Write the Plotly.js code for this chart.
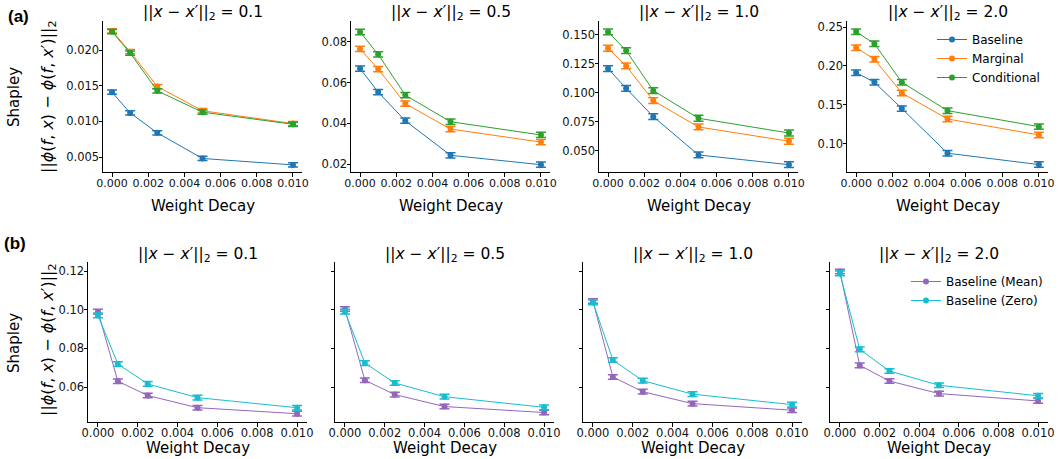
<!DOCTYPE html>
<html><head><meta charset="utf-8">
<script src="https://cdn.plot.ly/plotly-3.0.1.min.js"></script>
<style>body{margin:0;padding:0;background:#fff}#plot{width:1058px;height:459px}</style>
</head><body><div id="plot"></div>
<script>
// ---------- DATA ----------
const weightDecay = [0, 0.001, 0.0025, 0.005, 0.01];
const normLabels = ['0.1', '0.5', '1.0', '2.0'];

// Row (a): one array per panel (||x-x'|| = 0.1, 0.5, 1.0, 2.0)
const baselineA = [
  [0.0141, 0.0112, 0.0084, 0.0048, 0.0039],
  [0.0669, 0.0554, 0.0413, 0.0243, 0.0197],
  [0.1210, 0.1040, 0.0796, 0.0466, 0.0382],
  [0.1914, 0.1791, 0.1453, 0.0881, 0.0735]
];
const marginalA = [
  [0.0227, 0.0198, 0.0149, 0.0115, 0.0097],
  [0.0766, 0.0667, 0.0497, 0.0372, 0.0308],
  [0.1385, 0.1233, 0.0934, 0.0707, 0.0584],
  [0.2235, 0.2086, 0.1654, 0.1320, 0.1115]
];
const conditionalA = [
  [0.0226, 0.0196, 0.0143, 0.0113, 0.0096],
  [0.0849, 0.0739, 0.0539, 0.0408, 0.0343],
  [0.1526, 0.1365, 0.1020, 0.0782, 0.0655],
  [0.2440, 0.2286, 0.1791, 0.1427, 0.1222]
];
const errA = [0.0003, 0.0013, 0.0025, 0.0035];

// Row (b)
const baselineMeanB = [
  [0.0990, 0.0630, 0.0556, 0.0493, 0.0462],
  [0.1004, 0.0635, 0.0561, 0.0499, 0.0468],
  [0.1045, 0.0652, 0.0576, 0.0514, 0.0480],
  [0.1198, 0.0712, 0.0631, 0.0566, 0.0528]
];
const baselineZeroB = [
  [0.0971, 0.0719, 0.0616, 0.0545, 0.0493],
  [0.0990, 0.0724, 0.0621, 0.0550, 0.0495],
  [0.1038, 0.0740, 0.0633, 0.0563, 0.0509],
  [0.1188, 0.0795, 0.0683, 0.0609, 0.0555]
];
const errB = 0.0012;

const xTicks = [0, 0.002, 0.004, 0.006, 0.008, 0.010];
const yTicksA = [
  [0.005, 0.010, 0.015, 0.020],
  [0.02, 0.04, 0.06, 0.08],
  [0.050, 0.075, 0.100, 0.125, 0.150],
  [0.10, 0.15, 0.20, 0.25]
];
const yFmtA = ['.3f', '.2f', '.3f', '.2f'];
const yRangeA = [[0.0029, 0.0241], [0.0161, 0.0903], [0.0319, 0.162], [0.064, 0.2577]];
const yTicksB = [0.06, 0.08, 0.10, 0.12];
const yRangeB = [0.0419, 0.1247];

// ---------- LAYOUT GEOMETRY ----------
const W = 1058, H = 459;
const topPx = [[103, 302], [351, 550], [599, 798], [847, 1048]];
const botPx = [[88, 307], [335, 554], [583, 802], [830, 1048]];
const topY = [21, 172], botY = [262, 422];
const px2x = p => p / W, px2y = p => 1 - p / H;

const colors = {base: '#1f77b4', marg: '#ff7f0e', cond: '#2ca02c', mean: '#9467bd', zero: '#17becf'};
const FONT = 'DejaVu Sans, sans-serif';

const traces = [];
const layout = {
  width: W, height: H, margin: {l: 0, r: 0, t: 0, b: 0},
  paper_bgcolor: '#fff', plot_bgcolor: '#fff',
  font: {family: FONT, color: '#000', size: 11},
  showlegend: true,
  annotations: [],
  legend: {}
};

function mkTrace(y, err, color, name, xa, ya, show, group) {
  return {
    x: weightDecay, y: y, type: 'scatter', mode: 'lines+markers', name: name,
    legendgroup: group, showlegend: show, legend: group,
    xaxis: xa, yaxis: ya,
    line: {color: color, width: 1},
    marker: {color: color, size: 6},
    error_y: {type: 'constant', value: err, color: color, thickness: 1.5, width: 5}
  };
}

function axisCommon(fs) {
  return {
    showline: true, linecolor: '#000', linewidth: 1, ticks: 'outside', ticklen: 3.5,
    tickwidth: 1, tickcolor: '#000', showgrid: false, zeroline: false, mirror: false,
    ticklabelstandoff: -3,
    tickfont: {family: FONT, size: fs, color: '#111'}
  };
}

function addText(text, x, y, size, angle, family) {
  layout.annotations.push({
    text: text, xref: 'paper', yref: 'paper', x: px2x(x), y: px2y(y),
    xanchor: 'center', yanchor: 'middle', showarrow: false, textangle: angle || 0,
    font: {family: family || FONT, size: size, color: '#000'}
  });
}

for (let i = 0; i < 4; i++) {
  const n = i + 1;
  const xa = 'x' + (n === 1 ? '' : n), ya = 'y' + (n === 1 ? '' : n);
  const show = i === 3;
  traces.push(mkTrace(baselineA[i], errA[i], colors.base, 'Baseline', xa, ya, show, 'legend'));
  traces.push(mkTrace(marginalA[i], errA[i], colors.marg, 'Marginal', xa, ya, show, 'legend'));
  traces.push(mkTrace(conditionalA[i], errA[i], colors.cond, 'Conditional', xa, ya, show, 'legend'));
  layout['xaxis' + (n === 1 ? '' : n)] = Object.assign(axisCommon(11), {
    domain: [px2x(topPx[i][0]), px2x(topPx[i][1])], anchor: ya,
    range: [-0.0005, 0.0105], tickvals: xTicks, tickformat: '.3f'
  });
  layout['yaxis' + (n === 1 ? '' : n)] = Object.assign(axisCommon(11.5), {
    domain: [px2y(topY[1]), px2y(topY[0])], anchor: xa,
    range: yRangeA[i], tickvals: yTicksA[i], tickformat: yFmtA[i]
  });
  const cx = (topPx[i][0] + topPx[i][1]) / 2;
  addText('||<i>x</i> − <i>x</i>′||<sub>2</sub> = ' + normLabels[i], cx, 13, 15.5);
  addText('Weight Decay', cx, 206, 15);
}

for (let i = 0; i < 4; i++) {
  const n = i + 5;
  const xa = 'x' + n, ya = 'y' + n;
  const show = i === 3;
  traces.push(mkTrace(baselineMeanB[i], errB, colors.mean, 'Baseline (Mean)', xa, ya, show, 'legend2'));
  traces.push(mkTrace(baselineZeroB[i], errB, colors.zero, 'Baseline (Zero)', xa, ya, show, 'legend2'));
  layout['xaxis' + n] = Object.assign(axisCommon(11.5), {
    domain: [px2x(botPx[i][0]), px2x(botPx[i][1])], anchor: ya,
    range: [-0.0005, 0.0105], tickvals: xTicks, tickformat: '.3f'
  });
  layout['yaxis' + n] = Object.assign(axisCommon(11.5), {
    domain: [px2y(botY[1]), px2y(botY[0])], anchor: xa,
    range: yRangeB, tickvals: yTicksB, tickformat: '.2f',
    showticklabels: i === 0
  });
  const cx = (botPx[i][0] + botPx[i][1]) / 2;
  addText('||<i>x</i> − <i>x</i>′||<sub>2</sub> = ' + normLabels[i], cx, 255, 15.5);
  addText('Weight Decay', cx, 448, 15);
}

// legends
layout.legend = {
  x: px2x(932), y: px2y(25), xanchor: 'left', yanchor: 'top',
  bgcolor: 'rgba(255,255,255,0)', font: {family: FONT, size: 12}, tracegroupgap: 0
};
layout.legend2 = {
  x: px2x(906), y: px2y(267), xanchor: 'left', yanchor: 'top',
  bgcolor: 'rgba(255,255,255,0)', font: {family: FONT, size: 12}, tracegroupgap: 0
};

// row labels and y titles
const yFormula = '||<i>ϕ</i>(<i>f</i>, <i>x</i>) − <i>ϕ</i>(<i>f</i>, <i>x</i>′)||<sub>2</sub>';
addText('<b>(a)</b>', 18, 17, 17, 0, 'Liberation Sans, sans-serif');
addText('<b>(b)</b>', 15, 243, 17, 0, 'Liberation Sans, sans-serif');
addText('Shapley', 14, 97, 15, -90);
addText('Shapley', 14, 343, 15, -90);
addText(yFormula, 48, 97, 16, -90);
addText(yFormula, 48, 340, 16, -90);

Plotly.newPlot('plot', traces, layout, {displayModeBar: false, staticPlot: true});
</script></body></html>
